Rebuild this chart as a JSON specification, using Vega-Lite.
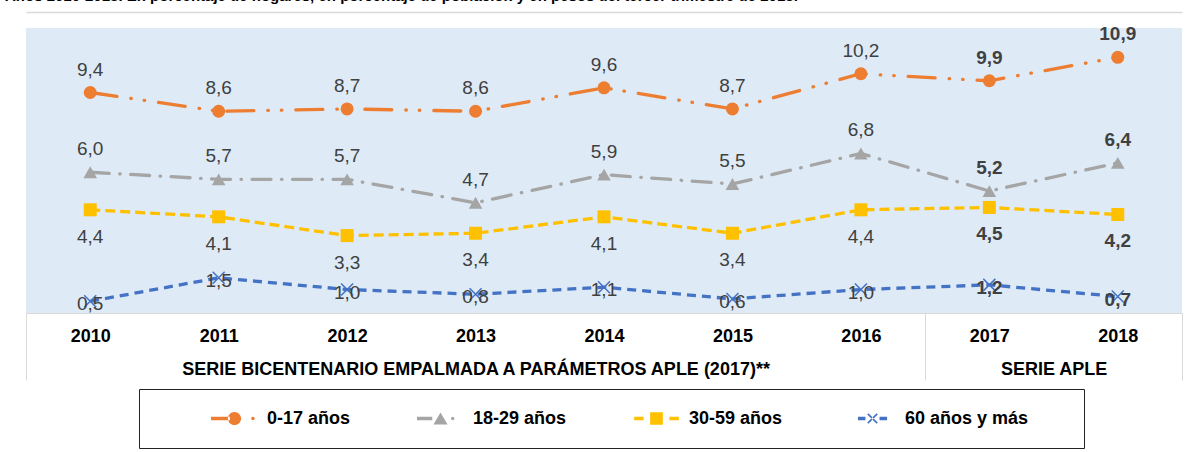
{
  "$schema": "https://vega.github.io/schema/vega-lite/v6.json",
  "width": 1156,
  "height": 285,
  "autosize": {"type": "none"},
  "padding": {"left": 26, "top": 28, "right": 8, "bottom": 139},
  "background": "white",
  "title": {
    "text": "Años 2010-2018. En porcentaje de hogares, en porcentaje de población y en pesos del tercer trimestre de 2018.",
    "anchor": "start",
    "frame": "group",
    "dx": -21,
    "offset": -4,
    "baseline": "alphabetic",
    "font": "Liberation Sans",
    "fontSize": 15,
    "fontWeight": "bold",
    "color": "black"
  },
  "data": {
    "values": [
      {"serie": "0-17 años", "anio": 2010, "valor": 9.4},
      {"serie": "0-17 años", "anio": 2011, "valor": 8.6},
      {"serie": "0-17 años", "anio": 2012, "valor": 8.7},
      {"serie": "0-17 años", "anio": 2013, "valor": 8.6},
      {"serie": "0-17 años", "anio": 2014, "valor": 9.6},
      {"serie": "0-17 años", "anio": 2015, "valor": 8.7},
      {"serie": "0-17 años", "anio": 2016, "valor": 10.2},
      {"serie": "0-17 años", "anio": 2017, "valor": 9.9},
      {"serie": "0-17 años", "anio": 2018, "valor": 10.9},
      {"serie": "18-29 años", "anio": 2010, "valor": 6.0},
      {"serie": "18-29 años", "anio": 2011, "valor": 5.7},
      {"serie": "18-29 años", "anio": 2012, "valor": 5.7},
      {"serie": "18-29 años", "anio": 2013, "valor": 4.7},
      {"serie": "18-29 años", "anio": 2014, "valor": 5.9},
      {"serie": "18-29 años", "anio": 2015, "valor": 5.5},
      {"serie": "18-29 años", "anio": 2016, "valor": 6.8},
      {"serie": "18-29 años", "anio": 2017, "valor": 5.2},
      {"serie": "18-29 años", "anio": 2018, "valor": 6.4},
      {"serie": "30-59 años", "anio": 2010, "valor": 4.4},
      {"serie": "30-59 años", "anio": 2011, "valor": 4.1},
      {"serie": "30-59 años", "anio": 2012, "valor": 3.3},
      {"serie": "30-59 años", "anio": 2013, "valor": 3.4},
      {"serie": "30-59 años", "anio": 2014, "valor": 4.1},
      {"serie": "30-59 años", "anio": 2015, "valor": 3.4},
      {"serie": "30-59 años", "anio": 2016, "valor": 4.4},
      {"serie": "30-59 años", "anio": 2017, "valor": 4.5},
      {"serie": "30-59 años", "anio": 2018, "valor": 4.2},
      {"serie": "60 años y más", "anio": 2010, "valor": 0.5},
      {"serie": "60 años y más", "anio": 2011, "valor": 1.5},
      {"serie": "60 años y más", "anio": 2012, "valor": 1.0},
      {"serie": "60 años y más", "anio": 2013, "valor": 0.8},
      {"serie": "60 años y más", "anio": 2014, "valor": 1.1},
      {"serie": "60 años y más", "anio": 2015, "valor": 0.6},
      {"serie": "60 años y más", "anio": 2016, "valor": 1.0},
      {"serie": "60 años y más", "anio": 2017, "valor": 1.2},
      {"serie": "60 años y más", "anio": 2018, "valor": 0.7}
    ]
  },
  "encoding": {
    "x": {"field": "anio", "type": "quantitative", "scale": {"domain": [2009.5, 2018.5], "nice": false, "zero": false}, "axis": null},
    "y": {"field": "valor", "type": "quantitative", "scale": {"domain": [0, 12.15], "nice": false, "zero": true}, "axis": null}
  },
  "layer": [
    {
      "transform": [{"filter": {"field": "serie", "equal": "0-17 años"}}],
      "mark": {"type": "line", "color": "#ED7D31", "strokeWidth": 3.3, "strokeCap": "round", "strokeDash": [27, 14, 0.5, 13, 0.5, 14]},
      "encoding": {
        "x": {
          "field": "anio", "type": "quantitative",
          "axis": {
            "orient": "bottom", "values": [2010, 2011, 2012, 2013, 2014, 2015, 2016, 2017, 2018], "format": "d",
            "ticks": false, "domain": false, "grid": false, "title": null,
            "labelFont": "Liberation Sans", "labelFontSize": 18, "labelFontWeight": "bold", "labelColor": "black",
            "labelPadding": 14, "labelFlush": false, "labelOverlap": false
          }
        }
      }
    },
    {
      "transform": [{"filter": {"field": "serie", "equal": "18-29 años"}}],
      "mark": {"type": "line", "color": "#A5A5A5", "strokeWidth": 3.3, "strokeCap": "round", "strokeDash": [19, 10.5, 0.5, 10.5]},
      "encoding": {
        "x": {
          "field": "anio", "type": "quantitative",
          "axis": {
            "orient": "top", "offset": 16, "values": [], "ticks": false, "labels": false, "grid": false, "title": null,
            "domain": true, "domainColor": "#D9D9D9", "domainWidth": 1.5
          }
        }
      }
    },
    {
      "transform": [{"filter": {"field": "serie", "equal": "30-59 años"}}],
      "mark": {"type": "line", "color": "#FFC000", "strokeWidth": 3.3, "strokeCap": "butt", "strokeDash": [10, 5]}
    },
    {
      "transform": [{"filter": {"field": "serie", "equal": "60 años y más"}}],
      "mark": {"type": "line", "color": "#4472C4", "strokeWidth": 3.3, "strokeCap": "butt", "strokeDash": [9, 6]}
    },
    {
      "transform": [{"filter": {"field": "serie", "equal": "0-17 años"}}],
      "mark": {"type": "point", "shape": "circle", "filled": true, "color": "#ED7D31", "size": 169, "opacity": 1}
    },
    {
      "transform": [{"filter": {"field": "serie", "equal": "18-29 años"}}],
      "mark": {"type": "point", "shape": "triangle-up", "filled": true, "color": "#A5A5A5", "size": 185, "opacity": 1}
    },
    {
      "transform": [{"filter": {"field": "serie", "equal": "30-59 años"}}],
      "mark": {"type": "point", "shape": "square", "filled": true, "color": "#FFC000", "size": 169, "opacity": 1}
    },
    {
      "transform": [{"filter": {"field": "serie", "equal": "60 años y más"}}],
      "mark": {"type": "point", "shape": "M-1,-1L1,1M-1,1L1,-1", "filled": false, "color": "#4472C4", "strokeWidth": 1.5, "size": 144, "opacity": 1}
    },
    {
      "transform": [{"filter": {"and": [{"field": "serie", "oneOf": ["0-17 años", "18-29 años"]}, {"field": "anio", "lte": 2016}]}}],
      "mark": {"type": "text", "dy": -23, "font": "Liberation Sans", "fontSize": 19, "color": "#404040"},
      "encoding": {"text": {"field": "valor", "type": "quantitative", "format": ".1f"}}
    },
    {
      "transform": [{"filter": {"and": [{"field": "serie", "oneOf": ["0-17 años", "18-29 años"]}, {"field": "anio", "gte": 2017}]}}],
      "mark": {"type": "text", "dy": -23, "font": "Liberation Sans", "fontSize": 19, "fontWeight": "bold", "color": "#404040"},
      "encoding": {"text": {"field": "valor", "type": "quantitative", "format": ".1f"}}
    },
    {
      "transform": [{"filter": {"and": [{"field": "serie", "equal": "30-59 años"}, {"field": "anio", "lte": 2016}]}}],
      "mark": {"type": "text", "dy": 27, "font": "Liberation Sans", "fontSize": 19, "color": "#404040"},
      "encoding": {"text": {"field": "valor", "type": "quantitative", "format": ".1f"}}
    },
    {
      "transform": [{"filter": {"and": [{"field": "serie", "equal": "30-59 años"}, {"field": "anio", "gte": 2017}]}}],
      "mark": {"type": "text", "dy": 27, "font": "Liberation Sans", "fontSize": 19, "fontWeight": "bold", "color": "#404040"},
      "encoding": {"text": {"field": "valor", "type": "quantitative", "format": ".1f"}}
    },
    {
      "transform": [{"filter": {"and": [{"field": "serie", "equal": "60 años y más"}, {"field": "anio", "lte": 2016}]}}],
      "mark": {"type": "text", "dy": 3, "font": "Liberation Sans", "fontSize": 19, "color": "#404040"},
      "encoding": {"text": {"field": "valor", "type": "quantitative", "format": ".1f"}}
    },
    {
      "transform": [{"filter": {"and": [{"field": "serie", "equal": "60 años y más"}, {"field": "anio", "gte": 2017}]}}],
      "mark": {"type": "text", "dy": 3, "font": "Liberation Sans", "fontSize": 19, "fontWeight": "bold", "color": "#404040"},
      "encoding": {"text": {"field": "valor", "type": "quantitative", "format": ".1f"}}
    },
    {
      "transform": [{"filter": "false"}],
      "mark": {"type": "point", "filled": true, "opacity": 1},
      "encoding": {
        "x": {
          "field": "anio", "type": "quantitative",
          "axis": {
            "orient": "bottom", "values": [2009.5, 2013, 2016.5, 2017.5, 2018.5],
            "labelExpr": "datum.value == 2013 ? 'SERIE BICENTENARIO EMPALMADA A PARÁMETROS APLE (2017)**' : (datum.value == 2017.5 ? 'SERIE APLE' : '')",
            "ticks": true, "tickSize": 67, "tickColor": "#D9D9D9", "tickWidth": 1,
            "tickOpacity": {"condition": {"test": "datum.value == 2013 || datum.value == 2017.5", "value": 0}, "value": 1},
            "domain": true, "domainColor": "#D9D9D9", "domainWidth": 1, "grid": false, "title": null,
            "labelFont": "Liberation Sans", "labelFontSize": 18, "labelFontWeight": "bold", "labelColor": "black",
            "labelPadding": -20, "labelFlush": false, "labelOverlap": false, "labelBound": false, "labelLimit": 1000
          }
        },
        "color": {
          "field": "serie", "type": "nominal",
          "scale": {"domain": ["0-17 años", "18-29 años", "30-59 años", "60 años y más"], "range": ["#ED7D31", "#A5A5A5", "#FFC000", "#4472C4"]},
          "legend": {
            "title": " ", "titleOrient": "right", "titlePadding": 50, "titleFontSize": 18,
            "orient": "none", "legendX": 113, "legendY": 361, "direction": "horizontal", "columns": 4,
            "symbolSize": 2209, "symbolStrokeWidth": 0, "symbolOpacity": 1, "symbolOffset": 66, "labelOffset": 9, "columnPadding": 0, "padding": 6,
            "strokeColor": "#222222", "fillColor": "white", "gridAlign": "none",
            "labelFont": "Liberation Sans", "labelFontSize": 18, "labelFontWeight": "bold", "labelColor": "black", "labelLimit": 400
          }
        },
        "shape": {
          "field": "serie", "type": "nominal",
          "scale": {
            "domain": ["0-17 años", "18-29 años", "30-59 años", "60 años y más"],
            "range": [
              "M-1,-0.07H-0.2V0.07H-1Z M-0.28,0A0.28,0.28,0,1,0,0.28,0A0.28,0.28,0,1,0,-0.28,0Z M0.71,0A0.075,0.075,0,1,0,0.86,0A0.075,0.075,0,1,0,0.71,0Z M0,0.98L0.001,0.98L0.001,0.981Z",
              "M-1,-0.07H-0.35V0.07H-1Z M-0.3,0.26L0,-0.26L0.3,0.26Z M0.45,0A0.07,0.07,0,1,0,0.59,0A0.07,0.07,0,1,0,0.45,0Z M0,0.98L0.001,0.98L0.001,0.981Z",
              "M-0.95,-0.07H-0.55V0.07H-0.95Z M-0.27,-0.27H0.27V0.27H-0.27Z M0.55,-0.07H0.95V0.07H0.55Z M0,0.98L0.001,0.98L0.001,0.981Z",
              "M-0.62,-0.07H-0.3V0.07H-0.62Z M-0.175,-0.225L0.225,0.175L0.175,0.225L-0.225,-0.175Z M-0.175,0.225L0.225,-0.175L0.175,-0.225L-0.225,0.175Z M0.3,-0.07H0.62V0.07H0.3Z M0,0.98L0.001,0.98L0.001,0.981Z"
            ]
          },
          "legend": {
            "title": " ", "titleOrient": "right", "titlePadding": 50, "titleFontSize": 18,
            "orient": "none", "legendX": 113, "legendY": 361, "direction": "horizontal", "columns": 4,
            "symbolSize": 2209, "symbolStrokeWidth": 0, "symbolOpacity": 1, "symbolOffset": 66, "labelOffset": 9, "columnPadding": 0, "padding": 6,
            "strokeColor": "#222222", "fillColor": "white", "gridAlign": "none",
            "labelFont": "Liberation Sans", "labelFontSize": 18, "labelFontWeight": "bold", "labelColor": "black", "labelLimit": 400
          }
        }
      }
    }
  ],
  "resolve": {"axis": {"x": "independent"}},
  "config": {
    "view": {"stroke": null, "fill": "#DEEBF7"},
    "locale": {"number": {"decimal": ",", "thousands": ".", "grouping": [3], "currency": ["$", ""]}}
  }
}
